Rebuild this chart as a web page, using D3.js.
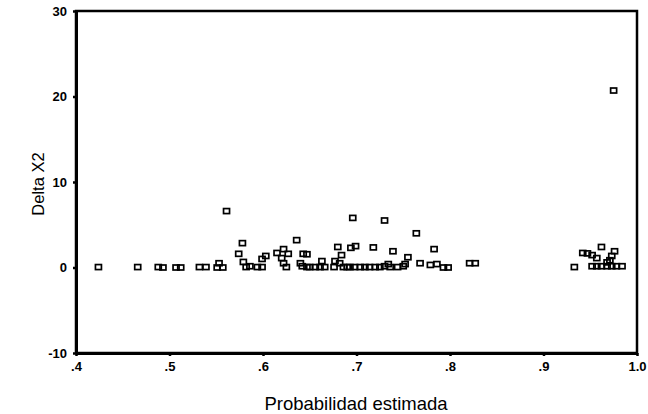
<!DOCTYPE html>
<html><head><meta charset="utf-8">
<script src="https://cdn.jsdelivr.net/npm/d3@7"></script>
<style>body{margin:0;background:#fff}svg{display:block}</style>
</head><body>
<script>
const xVals = [0.424,0.466,0.488,0.493,0.507,0.512,0.532,0.539,0.553,0.551,0.557,0.561,
0.578,0.574,0.579,0.582,0.586,0.594,0.599,0.599,0.603,0.615,0.622,0.627,0.620,0.622,0.625,
0.636,0.643,0.647,0.640,0.642,0.647,0.650,0.656,0.663,0.661,0.666,
0.680,0.684,0.677,0.682,0.676,0.686,0.690,0.696,0.694,0.699,
0.693,0.698,0.704,0.709,0.714,0.720,0.725,0.718,0.730,0.730,0.734,0.736,0.739,
0.744,0.750,0.752,0.755,0.764,0.768,0.779,0.786,0.783,0.793,0.798,0.821,0.827,
0.933,0.962,0.942,0.947,0.952,0.957,0.976,0.973,0.971,0.968,
0.952,0.957,0.962,0.968,0.973,0.978,0.984,0.975];
const yVals = [0.05,0.05,0.05,0.0,0.0,0.0,0.05,0.05,0.5,0.0,0.0,6.6,
2.85,1.6,0.65,0.05,0.15,0.05,0.05,1.0,1.35,1.7,2.15,1.6,1.1,0.5,0.05,
3.2,1.6,1.55,0.5,0.15,0.05,0.05,0.05,0.75,0.05,0.05,
2.4,1.45,0.75,0.5,0.05,0.05,0.05,5.8,2.3,2.5,
0.05,0.05,0.05,0.05,0.05,0.05,0.05,2.35,5.5,0.15,0.4,0.05,1.9,
0.05,0.15,0.4,1.2,4.0,0.5,0.3,0.4,2.15,0.0,0.0,0.5,0.5,
0.05,2.4,1.7,1.65,1.45,1.1,1.9,1.35,0.85,0.6,
0.15,0.15,0.15,0.15,0.15,0.15,0.15,20.7];
const xTicks = [0.4,0.5,0.6,0.7,0.8,0.9,1.0];
const xTickLabels = [".4",".5",".6",".7",".8",".9","1.0"];
const yTicks = [30,20,10,0,-10];
const yTickLabels = ["30","20","10","0","-10"];
const xTitle = "Probabilidad estimada";
const yTitle = "Delta X2";

const W=648,H=414, L=76, R=637, T=11, B=353;
const svg=d3.select("body").append("svg").attr("width",W).attr("height",H);
const x=d3.scaleLinear().domain([0.4,1.0]).range([L,R]);
const y=d3.scaleLinear().domain([-10,30]).range([B,T]);

// frame
svg.append("rect").attr("x",L).attr("y",T).attr("width",R-L).attr("height",B-T)
  .attr("fill","none").attr("stroke","#000").attr("stroke-width",2.5);

const xAxis=svg.append("g").attr("transform",`translate(0,${B})`)
  .call(d3.axisBottom(x).tickValues(xTicks).tickSize(3).tickSizeOuter(0).tickFormat((d,i)=>xTickLabels[i]));
const yAxis=svg.append("g").attr("transform",`translate(${L},0)`)
  .call(d3.axisLeft(y).tickValues(yTicks).tickSize(3).tickSizeOuter(0).tickFormat((d,i)=>yTickLabels[i]));
[xAxis,yAxis].forEach(g=>{
  g.select(".domain").attr("stroke","#000").attr("stroke-width",3);
  g.selectAll(".tick line").attr("stroke","#000").attr("stroke-width",2.5);
  g.selectAll("text").attr("font-family","Liberation Sans, Arial, sans-serif")
    .attr("font-size",13).attr("font-weight","bold").attr("fill","#000");
});
xAxis.selectAll("text").attr("dy","0.71em").attr("y",9);
yAxis.selectAll("text").attr("x",-9);

svg.append("text").attr("x",356).attr("y",410).attr("text-anchor","middle")
  .attr("font-family","Liberation Sans, Arial, sans-serif").attr("font-size",18.5)
  .attr("fill","#000").text(xTitle);
svg.append("text").attr("transform","translate(44,184) rotate(-90)").attr("text-anchor","middle")
  .attr("font-family","Liberation Sans, Arial, sans-serif").attr("font-size",16.5)
  .attr("fill","#000").text(yTitle);

svg.append("g").selectAll("rect").data(xVals.map((v,i)=>[v,yVals[i]])).join("rect")
  .attr("x",d=>x(d[0])-3).attr("y",d=>y(d[1])-2.5).attr("width",6).attr("height",5)
  .attr("fill","none").attr("stroke","#000").attr("stroke-width",1.7);
</script>
</body></html>
